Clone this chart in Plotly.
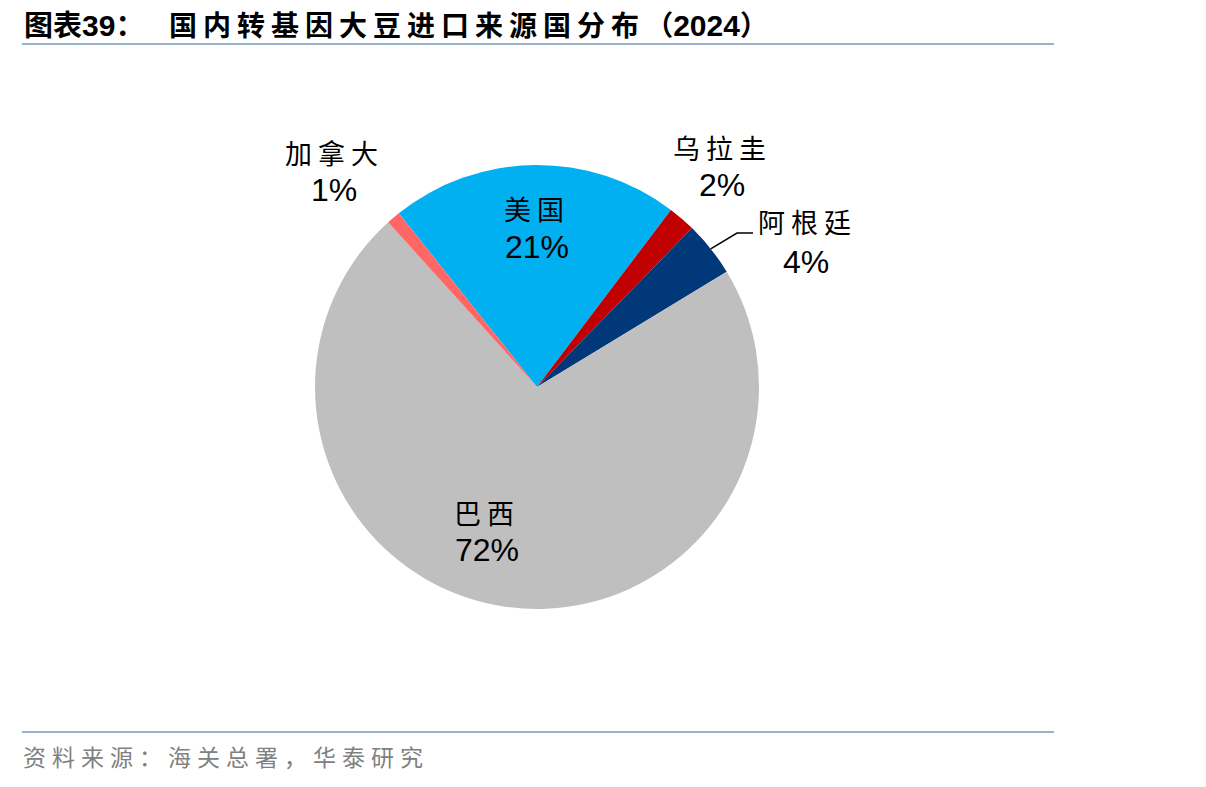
import math
import plotly.graph_objects as go

# ---------------- data ----------------
countries = ["美国", "乌拉圭", "阿根廷", "巴西", "加拿大"]
shares = [21, 2, 4, 72, 1]
pct_labels = ["21%", "2%", "4%", "72%", "1%"]
colors = ["#00B0F0", "#C00000", "#00387A", "#BFBFBF", "#FF6666"]

title_prefix = "图表"
title_num = "39"
title_main = "国内转基因大豆进口来源国分布"
title_year = "2024"
source_text = "资料来源：海关总署，华泰研究"

# ---------------- layout constants (pixels) ----------------
W, H = 1206, 787
CX, CY, R = 537, 387, 222
START_ROT = -38.5  # angle (deg, clockwise from 12 o'clock) where first slice starts

# label centers (name line, pct line) in pixel space
label_pos = {
    "美国": ((537, 209), (537, 247)),
    "乌拉圭": ((722, 147), (722, 185)),
    "阿根廷": ((808, 222), (806, 262)),
    "巴西": ((487, 512), (487, 550)),
    "加拿大": ((334, 152), (334, 190)),
}


def px(x):
    return x / W


def py(y):
    return 1 - y / H


def spaced(s, ls, extra=""):
    return f'<span style="letter-spacing:{ls}px;{extra}">{s}</span>'


fig = go.Figure()
fig.add_trace(go.Pie(
    labels=countries,
    values=shares,
    sort=False,
    direction="clockwise",
    rotation=START_ROT,
    marker=dict(colors=colors, line=dict(width=0)),
    textinfo="none",
    textposition="none",
    hoverinfo="label+percent",
    showlegend=False,
    domain=dict(x=[px(CX - R), px(CX + R)], y=[py(CY + R), py(CY - R)]),
))

annotations = []
CJK = "Noto Sans CJK SC"
LAT = "Liberation Sans, Arial, sans-serif"
for name, pct in zip(countries, pct_labels):
    (nx, ny), (tx, ty) = label_pos[name]
    annotations.append(dict(
        x=px(nx), y=py(ny), xref="paper", yref="paper", text=spaced(name, 6),
        showarrow=False, xanchor="center", yanchor="middle",
        font=dict(family=CJK, size=27, color="#000000"),
    ))
    annotations.append(dict(
        x=px(tx), y=py(ty), xref="paper", yref="paper", text=pct,
        showarrow=False, xanchor="center", yanchor="middle",
        font=dict(family=LAT, size=32, color="#000000"),
    ))

# title & source
title_html = (
    f'<span style="font-size:29px">{title_prefix}</span>'
    f'<span style="font-family:Liberation Sans;font-size:30px">{title_num}</span>'
    f'<span style="font-size:29px">：</span>'
    + spaced("  " + title_main, 6)
    + "（"
    + f'<span style="font-family:Liberation Sans;font-size:30px">{title_year}</span>'
    + "）"
)
annotations.append(dict(
    x=px(22), y=py(23), xref="paper", yref="paper", text=title_html,
    showarrow=False, xanchor="left", yanchor="middle",
    font=dict(family=CJK, size=28, color="#000000", weight="bold"),
))
annotations.append(dict(
    x=px(21), y=py(756), xref="paper", yref="paper", text=spaced(source_text, 6),
    showarrow=False, xanchor="left", yanchor="middle",
    font=dict(family=CJK, size=23, color="#808080"),
))

# leader line for 阿根廷: starts at pie edge at slice mid-angle
cum = 0
for name, v in zip(countries, shares):
    if name == "阿根廷":
        mid = START_ROT + (cum + v / 2) / sum(shares) * 360
        break
    cum += v
sx = CX + R * math.sin(math.radians(mid))
sy = CY - R * math.cos(math.radians(mid))
ex, ey = 737, 233
hx = 753
shapes = [
    dict(type="path", xref="paper", yref="paper",
         path=f"M {px(sx)},{py(sy)} L {px(ex)},{py(ey)} L {px(hx)},{py(ey)}",
         line=dict(color="#000000", width=1.5)),
    dict(type="line", xref="paper", yref="paper", x0=px(22), x1=px(1054), y0=py(44), y1=py(44),
         line=dict(color="#9AB2CF", width=2)),
    dict(type="line", xref="paper", yref="paper", x0=px(22), x1=px(1054), y0=py(732), y1=py(732),
         line=dict(color="#9AB2CF", width=2)),
]

fig.update_layout(
    width=W, height=H,
    margin=dict(l=0, r=0, t=0, b=0),
    paper_bgcolor="#FFFFFF", plot_bgcolor="#FFFFFF",
    annotations=annotations, shapes=shapes,
)

fig.write_html("out.html")
